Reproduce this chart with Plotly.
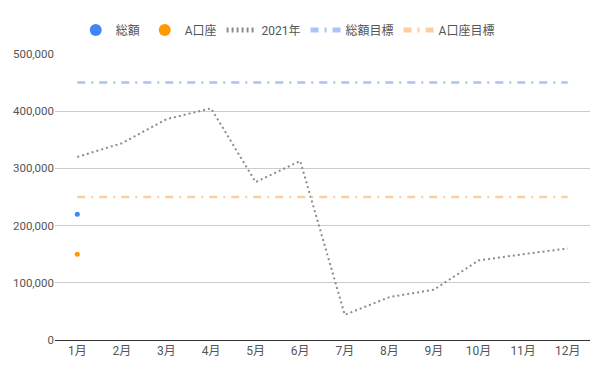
import plotly.graph_objects as go

months = ["1月", "2月", "3月", "4月", "5月", "6月", "7月", "8月", "9月", "10月", "11月", "12月"]
total = [220000]
account_a = [150000]
year2021 = [320000, 344000, 386000, 405000, 276000, 313000, 44000, 75000, 88000, 139000, 150000, 160000]
total_target = [450000] * 12
a_target = [250000] * 12
y_ticks = [0, 100000, 200000, 300000, 400000, 500000]
y_tick_labels = ["0", "100,000", "200,000", "300,000", "400,000", "500,000"]

fig = go.Figure()
fig.add_trace(go.Scatter(x=months[:1], y=total, name="総額", mode="markers",
                         marker=dict(color="#4285f4", size=5)))
fig.add_trace(go.Scatter(x=months[:1], y=account_a, name="A口座", mode="markers",
                         marker=dict(color="#ff9900", size=5)))
fig.add_trace(go.Scatter(x=months, y=year2021, name="2021年", mode="lines",
                         line=dict(color="#8c8c8c", width=2, dash="2px,3px")))
fig.add_trace(go.Scatter(x=months, y=total_target, name="総額目標", mode="lines",
                         line=dict(color="#a9c4f5", width=2.5, dash="8px,6px,2px,6px")))
fig.add_trace(go.Scatter(x=months, y=a_target, name="A口座目標", mode="lines",
                         line=dict(color="#fbcf9f", width=2.5, dash="8px,6px,2px,6px")))

fig.update_layout(
    width=600, height=370,
    margin=dict(l=47, r=18, t=46, b=38, autoexpand=False),
    paper_bgcolor="white", plot_bgcolor="white",
    font=dict(family="Roboto, 'Noto Sans CJK JP', sans-serif", size=12, color="#555555"),
    showlegend=True,
    legend=dict(orientation="h", x=0.435, xanchor="center", y=1.084, yanchor="middle",
                font=dict(size=12, color="#555555"), itemwidth=30, itemsizing="constant",
                traceorder="normal"),
    xaxis=dict(type="category", range=[-0.5, 11.5], showgrid=False, automargin=False,
               showline=True, linecolor="#333333", linewidth=1, ticks="",
               tickfont=dict(size=12, color="#555555"), fixedrange=True),
    yaxis=dict(range=[0, 500000], tickvals=y_ticks, ticktext=y_tick_labels, automargin=False,
               showgrid=True, gridcolor="#cccccc", gridwidth=1, zeroline=False,
               ticks="", ticklen=0, ticklabelstandoff=0,
               tickfont=dict(size=11.5, color="#555555"), fixedrange=True),
)
fig.write_html("out.html")
